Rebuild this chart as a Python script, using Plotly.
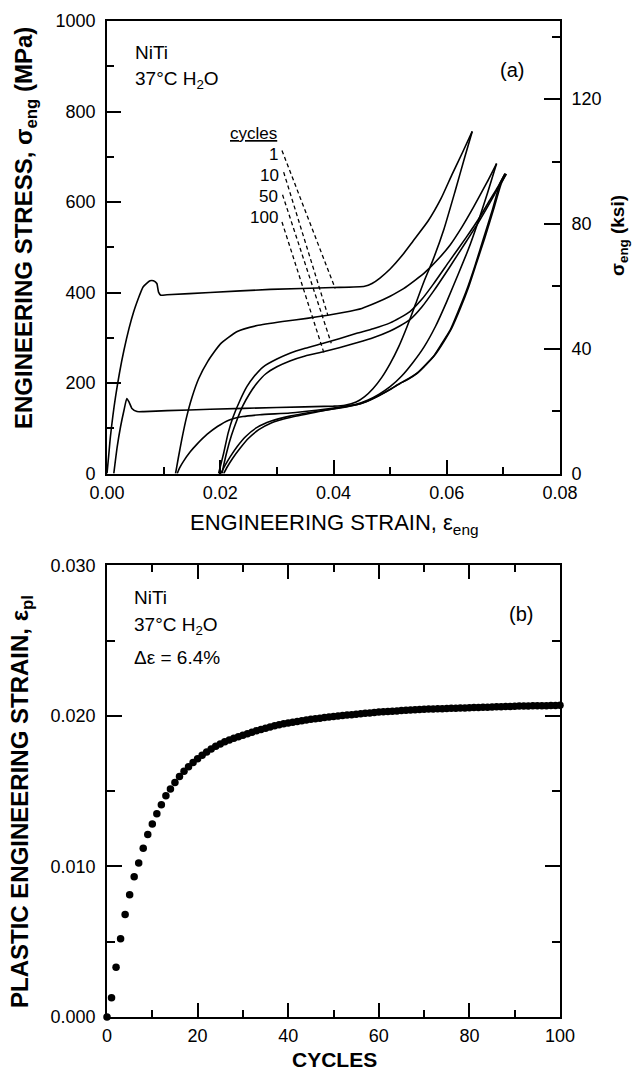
import plotly.graph_objects as go

# ---------------- data: panel (a) stress-strain loops ----------------
c1_load_strain = [0.0000, 0.0003, 0.0006, 0.0015, 0.0030, 0.0047, 0.0064, 0.0076, 0.0082, 0.0088, 0.0091,
                  0.0095, 0.0106, 0.0182, 0.0288, 0.0400, 0.0455, 0.0468, 0.0482, 0.0500, 0.0520, 0.0540,
                  0.0567, 0.0590, 0.0609, 0.0628, 0.0645]
c1_load_stress = [0, 40, 81, 169, 273, 357, 413, 426, 426, 420, 401,
                  394, 395, 400, 407, 411, 414, 420, 432, 452, 480, 513,
                  558, 608, 660, 710, 756]
c1_unload_strain = [0.0645, 0.0632, 0.0615, 0.0595, 0.0575, 0.0560, 0.0545, 0.0530, 0.0515, 0.0500, 0.0485,
                    0.0470, 0.0455, 0.0440, 0.0420, 0.0400, 0.0300, 0.0182, 0.0106, 0.0065, 0.0053, 0.0044,
                    0.0039, 0.0035, 0.0030, 0.0024, 0.0018, 0.0012]
c1_unload_stress = [756, 700, 625, 540, 470, 425, 375, 325, 280, 243, 212,
                    188, 170, 158, 151, 149, 146, 142, 139, 137, 137, 144,
                    158, 166, 140, 104, 59, 0]

c10_load_strain = [0.0121, 0.0126, 0.0132, 0.0140, 0.0150, 0.0162, 0.0178, 0.0200, 0.0230, 0.0265, 0.0310,
                   0.0353, 0.0390, 0.0417, 0.0450, 0.0476, 0.0500, 0.0523, 0.0545, 0.0562, 0.0585, 0.0606,
                   0.0627, 0.0647, 0.0670, 0.0688]
c10_load_stress = [0, 35, 75, 122, 168, 210, 248, 286, 314, 327, 336,
                   343, 350, 356, 365, 378, 392, 408, 428, 445, 474, 505,
                   545, 588, 641, 685]
c10_unload_strain = [0.0688, 0.0672, 0.0655, 0.0638, 0.0620, 0.0600, 0.0580, 0.0560, 0.0540, 0.0520, 0.0500,
                     0.0480, 0.0460, 0.0440, 0.0412, 0.0370, 0.0323, 0.0270, 0.0240, 0.0215, 0.0195, 0.0177,
                     0.0159, 0.0147, 0.0135, 0.0128, 0.0124]
c10_unload_stress = [685, 620, 555, 495, 440, 380, 325, 280, 245, 215, 192,
                     175, 162, 153, 147, 140, 134, 130, 126, 118, 104, 87,
                     65, 48, 27, 12, 0]

c50_load_strain = [0.0197, 0.0200, 0.0206, 0.0214, 0.0223, 0.0235, 0.0247, 0.0260, 0.0276, 0.0300, 0.0323,
                   0.0350, 0.0382, 0.0410, 0.0441, 0.0470, 0.0500, 0.0517, 0.0535, 0.0556, 0.0576, 0.0605,
                   0.0635, 0.0656, 0.0676, 0.0690, 0.0703]
c50_load_stress = [0, 15, 45, 90, 126, 162, 192, 215, 236, 253, 266,
                   277, 288, 298, 310, 320, 333, 344, 358, 385, 418, 470,
                   523, 562, 604, 633, 663]
c50_unload_strain = [0.0703, 0.0694, 0.0680, 0.0664, 0.0650, 0.0635, 0.0620, 0.0606, 0.0590, 0.0576, 0.0560,
                     0.0547, 0.0530, 0.0517, 0.0500, 0.0480, 0.0460, 0.0441, 0.0412, 0.0370, 0.0323, 0.0290,
                     0.0265, 0.0245, 0.0230, 0.0218, 0.0208, 0.0201]
c50_unload_stress = [663, 641, 580, 516, 460, 405, 358, 317, 285, 258, 237,
                     221, 207, 199, 186, 172, 160, 152, 145, 137, 127, 116,
                     102, 82, 60, 38, 17, 0]

c100_load_strain = [0.0203, 0.0206, 0.0212, 0.0220, 0.0230, 0.0240, 0.0252, 0.0265, 0.0280, 0.0300, 0.0323,
                    0.0350, 0.0382, 0.0410, 0.0441, 0.0470, 0.0500, 0.0517, 0.0535, 0.0556, 0.0576, 0.0605,
                    0.0635, 0.0656, 0.0676, 0.0690, 0.0705]
c100_load_stress = [0, 18, 50, 85, 120, 150, 177, 200, 220, 236, 249,
                    260, 269, 278, 289, 300, 315, 326, 340, 368, 402, 456,
                    514, 555, 598, 630, 662]
c100_unload_strain = [0.0705, 0.0696, 0.0683, 0.0667, 0.0652, 0.0638, 0.0623, 0.0609, 0.0593, 0.0579, 0.0563,
                      0.0550, 0.0533, 0.0520, 0.0503, 0.0483, 0.0463, 0.0444, 0.0412, 0.0370, 0.0323, 0.0290,
                      0.0268, 0.0250, 0.0235, 0.0222, 0.0212, 0.0206]
c100_unload_stress = [662, 640, 585, 520, 463, 410, 362, 322, 288, 262, 240,
                      224, 210, 201, 188, 174, 162, 153, 146, 136, 124, 112,
                      97, 78, 56, 34, 14, 0]

# leader lines (cycles labels -> curves): start/end strain and stress
cycle_labels = ["1", "10", "50", "100"]
leader_start_strain = [0.0309, 0.0312, 0.0310, 0.0309]
leader_start_stress = [714, 666, 616, 556]
leader_end_strain = [0.0403, 0.0390, 0.0396, 0.0383]
leader_end_stress = [409, 350, 288, 267]
label_stress = [705, 659, 613, 566]

MPA_PER_KSI = 6.894757

# ---------------- data: panel (b) plastic strain vs cycles ----------------
cycles = list(range(0, 101))
eps_pl = [0.00000, 0.00128, 0.00330, 0.00520, 0.00680, 0.00812, 0.00932, 0.01022, 0.01120, 0.01212,
          0.01282, 0.01350, 0.01410, 0.01470, 0.01515, 0.01558, 0.01598, 0.01632, 0.01662, 0.01690,
          0.01715, 0.01738, 0.01760, 0.01780, 0.01798, 0.01814, 0.01828, 0.01840, 0.01851, 0.01862,
          0.01872, 0.01882, 0.01892, 0.01901, 0.01910, 0.01918, 0.01926, 0.01934, 0.01941, 0.01947,
          0.01953, 0.01958, 0.01963, 0.01968, 0.01972, 0.01977, 0.01981, 0.01985, 0.01989, 0.01993,
          0.01996, 0.01999, 0.02002, 0.02005, 0.02008, 0.02011, 0.02014, 0.02017, 0.02019, 0.02022,
          0.02025, 0.02027, 0.02029, 0.02031, 0.02033, 0.02035, 0.02037, 0.02039, 0.02041, 0.02042,
          0.02044, 0.02045, 0.02046, 0.02047, 0.02048, 0.02049, 0.02050, 0.02051, 0.02052, 0.02053,
          0.02054, 0.02055, 0.02056, 0.02057, 0.02058, 0.02059, 0.02060, 0.02061, 0.02062, 0.02063,
          0.02064, 0.02065, 0.02065, 0.02066, 0.02067, 0.02067, 0.02068, 0.02068, 0.02069, 0.02069, 0.02070]

FONT = "Liberation Sans, Arial, Helvetica, sans-serif"
BLACK = "#000000"

fig = go.Figure()

curve_line = dict(color=BLACK, width=1.6, shape="spline", smoothing=0.5)
for xs, ys in [(c1_load_strain, c1_load_stress), (c1_unload_strain, c1_unload_stress),
               (c10_load_strain, c10_load_stress), (c10_unload_strain, c10_unload_stress),
               (c50_load_strain, c50_load_stress), (c50_unload_strain, c50_unload_stress),
               (c100_load_strain, c100_load_stress), (c100_unload_strain, c100_unload_stress)]:
    fig.add_trace(go.Scatter(x=xs, y=ys, mode="lines", line=curve_line, xaxis="x", yaxis="y",
                             showlegend=False, hoverinfo="skip", cliponaxis=True))

for i in range(len(cycle_labels)):
    fig.add_trace(go.Scatter(x=[leader_start_strain[i], leader_end_strain[i]],
                             y=[leader_start_stress[i], leader_end_stress[i]],
                             mode="lines", line=dict(color=BLACK, width=1.3, dash="4px,3px"),
                             xaxis="x", yaxis="y", showlegend=False, hoverinfo="skip"))

# invisible trace to anchor the ksi axis
fig.add_trace(go.Scatter(x=[0], y=[0], mode="markers", marker=dict(opacity=0), xaxis="x", yaxis="y3",
                         showlegend=False, hoverinfo="skip"))

fig.add_trace(go.Scatter(x=cycles, y=eps_pl, mode="markers", xaxis="x2", yaxis="y2",
                         marker=dict(color=BLACK, size=7.5, line=dict(width=0)),
                         showlegend=False, hoverinfo="skip", cliponaxis=False))

L, R, T, B = 107, 73, 21, 57
W_px, H_px = 633, 1074
top_bottom = 0.5456
bot_top = 0.4535

tickfont = dict(family=FONT, size=18, color=BLACK)
common = dict(showgrid=False, zeroline=False, showline=True, linecolor=BLACK, linewidth=1.6,
              ticks="inside", tickwidth=1.5, tickcolor=BLACK, tickfont=tickfont)

fig.update_layout(
    width=W_px, height=H_px,
    margin=dict(l=L, r=R, t=T, b=B),
    paper_bgcolor="white", plot_bgcolor="white",
    xaxis=dict(domain=[0, 1], anchor="y", range=[0, 0.08], dtick=0.02, tick0=0, tickformat=".2f",
               ticklen=14, minor=dict(dtick=0.01, ticks="inside", ticklen=7, tickwidth=1.5, tickcolor=BLACK),
               mirror=True, ticklabelstandoff=2, **common),
    yaxis=dict(domain=[top_bottom, 1], anchor="x", range=[0, 1000], dtick=200, tick0=0,
               ticklen=14, minor=dict(dtick=100, ticks="inside", ticklen=7, tickwidth=1.5, tickcolor=BLACK),
               ticklabelstandoff=6, **common),
    yaxis3=dict(overlaying="y", side="right", anchor="x", range=[0, 1000 / MPA_PER_KSI], dtick=40, tick0=0,
                ticklen=16, minor=dict(dtick=20, ticks="inside", ticklen=8, tickwidth=1.5, tickcolor=BLACK),
                ticklabelstandoff=6, **common),
    xaxis2=dict(domain=[0, 1], anchor="y2", range=[0, 100], dtick=20, tick0=0,
                ticklen=14, minor=dict(dtick=10, ticks="inside", ticklen=7, tickwidth=1.5, tickcolor=BLACK),
                mirror="ticks", ticklabelstandoff=2, **common),
    yaxis2=dict(domain=[0, bot_top], anchor="x2", range=[0, 0.030], dtick=0.010, tick0=0, tickformat=".3f",
                ticklen=15, minor=dict(dtick=0.005, ticks="inside", ticklen=8, tickwidth=1.5, tickcolor=BLACK),
                mirror="ticks", ticklabelstandoff=6, **common),
)

plot_w = W_px - L - R
plot_h = H_px - T - B


def px(xp):
    return (xp - L) / plot_w


def py(yp):
    return (H_px - B - yp) / plot_h


ann = []
txt = dict(family=FONT, color=BLACK)
# axis titles
ann.append(dict(text="<b>ENGINEERING STRESS, σ<sub>eng</sub> (MPa)</b>", x=px(25), y=py(228),
                xref="paper", yref="paper", textangle=-90, showarrow=False,
                font=dict(size=24, **txt), xanchor="center", yanchor="middle"))
ann.append(dict(text="ENGINEERING STRAIN, ε<sub>eng</sub>", x=px(334), y=py(524),
                xref="paper", yref="paper", showarrow=False,
                font=dict(size=22, **txt), xanchor="center", yanchor="middle"))
ann.append(dict(text="<b>σ<sub>eng</sub> (ksi)</b>", x=px(619), y=py(236),
                xref="paper", yref="paper", textangle=-90, showarrow=False,
                font=dict(size=19, **txt), xanchor="center", yanchor="middle"))
ann.append(dict(text="<b>PLASTIC ENGINEERING STRAIN, ε<sub>pl</sub></b>", x=px(21), y=py(802),
                xref="paper", yref="paper", textangle=-90, showarrow=False,
                font=dict(size=24, **txt), xanchor="center", yanchor="middle"))
ann.append(dict(text="<b>CYCLES</b>", x=px(334), y=py(1059),
                xref="paper", yref="paper", showarrow=False, borderpad=0,
                font=dict(size=21, **txt), xanchor="center", yanchor="middle"))

# panel (a) texts
ann.append(dict(text="NiTi", x=0.0046, y=931, xref="x", yref="y", showarrow=False,
                font=dict(size=19, **txt), xanchor="left", yanchor="middle"))
ann.append(dict(text="37°C H<sub>2</sub>O", x=0.0046, y=870, xref="x", yref="y", showarrow=False,
                font=dict(size=19, **txt), xanchor="left", yanchor="middle"))
ann.append(dict(text="(a)", x=0.0715, y=891, xref="x", yref="y", showarrow=False,
                font=dict(size=20, **txt), xanchor="center", yanchor="middle"))
ann.append(dict(text="<u>cycles</u>", x=0.0259, y=752, xref="x", yref="y", showarrow=False,
                font=dict(size=17, **txt), xanchor="center", yanchor="middle"))
for i in range(len(cycle_labels)):
    ann.append(dict(text=cycle_labels[i], x=leader_start_strain[i] - 0.0004, y=label_stress[i],
                    xref="x", yref="y", showarrow=False,
                    font=dict(size=17, **txt), xanchor="right", yanchor="middle"))

# panel (b) texts
ann.append(dict(text="NiTi", x=5.6, y=0.02783, xref="x2", yref="y2", showarrow=False,
                font=dict(size=19, **txt), xanchor="left", yanchor="middle"))
ann.append(dict(text="37°C H<sub>2</sub>O", x=5.6, y=0.02600, xref="x2", yref="y2", showarrow=False,
                font=dict(size=19, **txt), xanchor="left", yanchor="middle"))
ann.append(dict(text="Δε = 6.4%", x=5.6, y=0.02385, xref="x2", yref="y2", showarrow=False,
                font=dict(size=19, **txt), xanchor="left", yanchor="middle"))
ann.append(dict(text="(b)", x=91.3, y=0.02677, xref="x2", yref="y2", showarrow=False,
                font=dict(size=20, **txt), xanchor="center", yanchor="middle"))

fig.update_layout(annotations=ann)

fig.write_html("out.html")
